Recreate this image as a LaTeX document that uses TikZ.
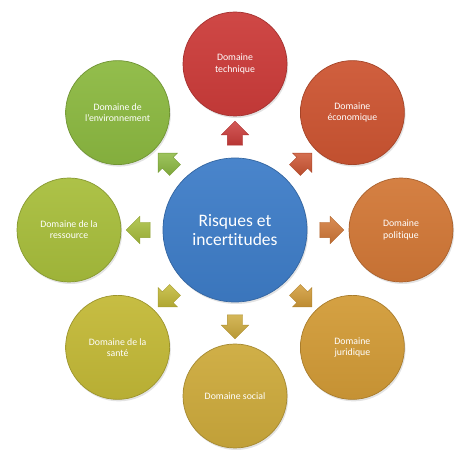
\documentclass[tikz,border=0pt]{standalone}
\usepackage{fontspec}
\setmainfont{Carlito}[Ligatures={NoCommon}]
\usetikzlibrary{shapes.arrows,shadows,calc}
\definecolor{cBlue}{HTML}{3E7DC8}
\definecolor{cTech}{HTML}{CC3C3A}
\definecolor{cEco}{HTML}{CD5532}
\definecolor{cPol}{HTML}{D27837}
\definecolor{cJur}{HTML}{D29B37}
\definecolor{cSoc}{HTML}{CDAA3C}
\definecolor{cSan}{HTML}{C3B937}
\definecolor{cRes}{HTML}{A8BE3C}
\definecolor{cEnv}{HTML}{8CB941}
\tikzset{
  ball/.style={circle, inner sep=0pt, text=white, align=center,
    top color=#1!94!white, bottom color=#1!94!black, draw=#1!80!black, line width=0.7pt,
    drop shadow={shadow xshift=1.2pt, shadow yshift=-2pt, opacity=0.22}},
  dom/.style={ball=#1, minimum size=104pt, font=\fontsize{9.8}{11.2}\selectfont},
  core/.style={ball=#1, minimum size=144pt, font=\fontsize{17.5}{19.5}\selectfont},
  blockarrow/.style={single arrow, inner sep=0pt, minimum height=24pt,
    single arrow head extend=6pt, top color=#1!85!white, bottom color=#1!90!black,
    draw=#1!85!black, line width=0.4pt}
}
\begin{document}
\begin{tikzpicture}[x=1pt,y=1pt]
\useasboundingbox (0,0) rectangle (474,463);
\node[core=cBlue] (c) at (235,233) {Risques et\\incertitudes};
\node[dom=cTech] (tech) at ($(c)+(90:166)$) {Domaine\\technique};
\node[dom=cEco] (eco) at ($(c)+(45:166)$) {Domaine\\économique};
\node[dom=cPol] (pol) at ($(c)+(0:166)$) {Domaine\\politique};
\node[dom=cJur] (jur) at ($(c)+(-45:166)$) {Domaine\\juridique};
\node[dom=cSoc] (soc) at ($(c)+(-90:166)$) {Domaine social};
\node[dom=cSan] (san) at ($(c)+(-135:166)$) {Domaine de la\\santé};
\node[dom=cRes] (res) at ($(c)+(180:166)$) {Domaine de la\\ressource};
\node[dom=cEnv] (env) at ($(c)+(135:166)$) {Domaine de\\l'environnement};
\foreach \t/\a/\col in {tech/90/cTech, eco/45/cEco, pol/0/cPol, jur/-45/cJur, soc/-90/cSoc, san/-135/cSan, res/180/cRes, env/135/cEnv}{
  \node[blockarrow=\col, rotate=\a] (a\t) at ($(c)!0.56!(\t)$) {\rule[-7.5pt]{0pt}{15pt}};
}
\end{tikzpicture}
\end{document}
